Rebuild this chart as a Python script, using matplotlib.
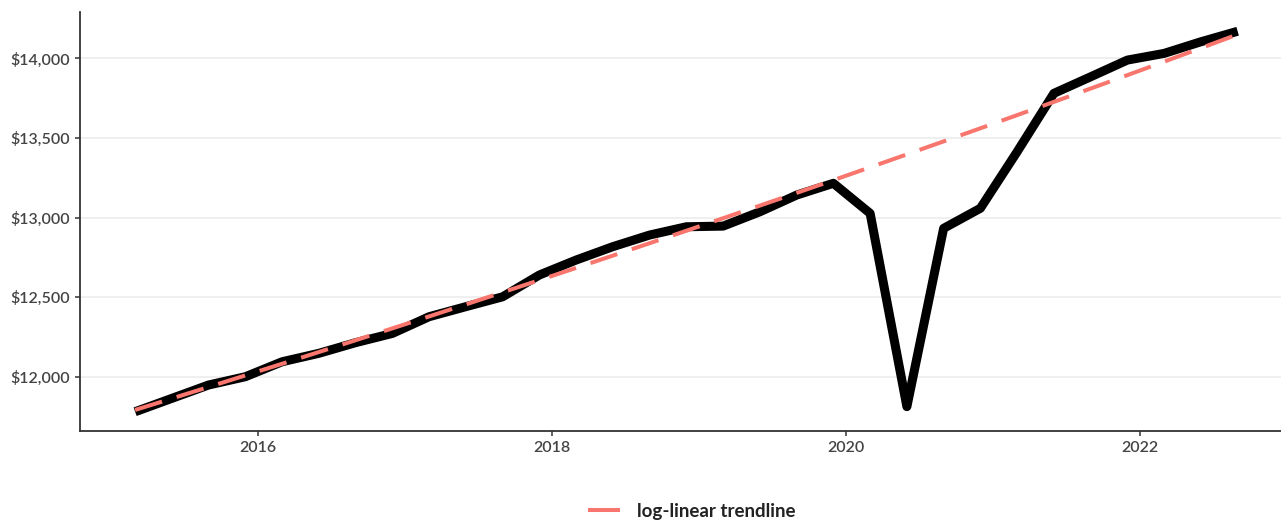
import numpy as np
import matplotlib.pyplot as plt
from matplotlib.lines import Line2D

plt.rcParams['font.family'] = ['Lato', 'DejaVu Sans']

# quarterly, 2015Q1 .. 2022Q3 (plotted near the middle of each quarter)
years = [2015] * 4 + [2016] * 4 + [2017] * 4 + [2018] * 4 + [2019] * 4 + [2020] * 4 + [2021] * 4 + [2022] * 3
quarters = [1, 2, 3, 4] * 7 + [1, 2, 3]
values = [11780, 11864, 11948, 12000, 12094, 12147, 12214, 12272,
          12377, 12440, 12502, 12639, 12733, 12817, 12890, 12942,
          12946, 13036, 13141, 13215, 13026, 11812, 12932, 13058,
          13413, 13780, 13884, 13989, 14031, 14104, 14170]

t = np.array(years) + (np.array(quarters) - 1) / 4 + 0.165
v = np.array(values, dtype=float)

# log-linear trend fitted on the pre-2020 quarters, extended over the whole span
pre = t < 2020
slope, icpt = np.polyfit(t[pre], np.log(v[pre]), 1)
trend = np.exp(icpt + slope * t)

fig = plt.figure(figsize=(12.81, 5.23), dpi=100)
ax = fig.add_axes([80 / 1281, 92 / 523, 1 - 80 / 1281, (431 - 12) / 523])

ax.plot(t, v, color='black', lw=6.5, solid_joinstyle='round', solid_capstyle='butt', zorder=3)
ax.plot(t, trend, color='#F8766D', lw=2.9, dashes=(7, 3.8), zorder=4)

ax.set_xlim(2014.79, 2022.96)
ax.set_ylim(11659, 14291)
ax.set_xticks([2016, 2018, 2020, 2022])
ax.set_xticklabels(['2016', '2018', '2020', '2022'])
ax.set_yticks([12000, 12500, 13000, 13500, 14000])
ax.set_yticklabels(['$12,000', '$12,500', '$13,000', '$13,500', '$14,000'])

ax.yaxis.grid(True, color='#EBEBEB', lw=1.1)
ax.xaxis.grid(False)
ax.set_axisbelow(True)
for s in ['top', 'right']:
    ax.spines[s].set_visible(False)
for s in ['left', 'bottom']:
    ax.spines[s].set_color('#333333')
    ax.spines[s].set_linewidth(1.3)
ax.tick_params(axis='both', colors='#333333', length=3.5, width=1.1, labelsize=11.5,
               labelcolor='#444444', pad=4)
for lab in ax.get_xticklabels() + ax.get_yticklabels():
    lab.set_fontweight('semibold')

handle = Line2D([], [], color='#F8766D', lw=2.9)
fig.legend([handle], ['log-linear trendline'], loc='center', bbox_to_anchor=(693 / 1281, 1 - 511 / 523),
           frameon=False, handlelength=1.5, handletextpad=1.0,
           prop={'weight': 'bold', 'size': 13.5})
for txt in fig.legends[0].get_texts():
    txt.set_color('#222222')

fig.savefig('out.png', dpi=100)
